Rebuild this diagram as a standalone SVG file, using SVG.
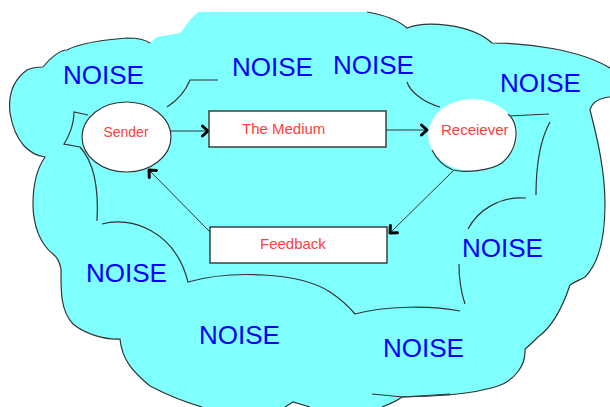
<svg xmlns="http://www.w3.org/2000/svg" width="610" height="407" viewBox="0 0 610 407">
<style>
.cloud{fill:#80FFFF;stroke:none}
.edge{fill:none;stroke:#333;stroke-width:1.2}
.noise{font-family:"Liberation Sans",Arial,sans-serif;font-size:26px;fill:#0000FF}
.lbl{font-family:"Liberation Sans",Arial,sans-serif;font-size:15px;fill:#FF4040}
.box{fill:#fff;stroke:#333;stroke-width:1.4}
.conn{fill:none;stroke:#333;stroke-width:1}
</style>
<defs>
<marker id="ah" markerUnits="userSpaceOnUse" markerWidth="14" markerHeight="14" refX="8" refY="7" orient="auto">
<path d="M2.5,2 L8,7 L2.5,12" fill="none" stroke="#000" stroke-width="3" stroke-linecap="round" stroke-linejoin="round"/>
</marker>
</defs>
<g id="cloud">
<path class="cloud" d="M150,43 L157,37 L180,33 L184,28 L190,20 L198,12 L367,12 C385,15 398,20 407,28 C425,21 470,23 492,43 C530,43 580,50 610,68 L610,97 C600,98 592,102 590,110 C597,137 605,170 605,204 C605,237 600,262 585,277 C580,280 576,281 570,285 C565,300 555,325 538,337 C533,342 529,346 525,349 C526,365 515,380 498,386 C470,395 438,396 402,397 C398,400 390,404 382,407 L310,407 L293,402 L285,407 L202,407 C188,403 175,399 150,386 C133,372 122,360 120,339 C105,340 85,334 73,324 C60,310 61,290 61,269 C60,262 56,256 53,254 C40,244 33,225 33,204 C33,185 36,170 45,157 C30,155 15,143 10,113 C8,95 13,80 27,70 C33,67 40,67 43,67 C50,58 60,50 67,50 C80,43 100,40 127,38 C138,38 146,40 150,43 Z"/>
<path class="edge" d="M367,12 C385,15 398,20 407,28 C425,21 470,23 492,43 C530,43 580,50 610,68"/>
<path class="edge" d="M610,97 C600,98 592,102 590,110 C597,137 605,170 605,204 C605,237 600,262 585,277 C580,280 576,281 570,285 C565,300 555,325 538,337 C533,342 529,346 525,349 C526,365 515,380 498,386 C470,395 438,396 402,397 C398,400 390,404 382,407"/>
<path class="edge" d="M372,394 L403,397 L450,394"/>
<path class="edge" d="M285,407 L293,402 L310,407"/>
<path class="edge" d="M202,407 C188,403 175,399 150,386 C133,372 122,360 120,339 C105,340 85,334 73,324 C60,310 61,290 61,269 C60,262 56,256 53,254 C40,244 33,225 33,204 C33,185 36,170 45,157 C30,155 15,143 10,113 C8,95 13,80 27,70 C33,67 40,67 43,67 C50,58 60,50 67,50 C80,43 100,40 127,38 C138,38 146,40 150,43"/>
<path class="edge" d="M167,107 C178,100 186,90 190,80 L218,80"/>
<path class="edge" d="M88,115 L74,112 C74,125 68,138 64,144 L80,147 C92,160 99,185 97,221"/>
<path class="edge" d="M102,224 C130,216 175,230 188,282 C230,270 300,272 330,292 C342,300 350,308 355,314 C385,306 430,305 460,311"/>
<path class="edge" d="M459,264 C459,280 462,295 465,304"/>
<path class="edge" d="M468,229 C478,210 500,196 526,198"/>
<path class="edge" d="M536,195 C536,165 540,140 550,122"/>
<path class="edge" d="M508,116 L549,114"/>
<path class="edge" d="M407,82 C410,92 425,103 440,107"/>
</g>
<g id="noise-labels">
<text class="noise" x="63" y="84">NOISE</text>
<text class="noise" x="232" y="76">NOISE</text>
<text class="noise" x="333" y="74">NOISE</text>
<text class="noise" x="500" y="92">NOISE</text>
<text class="noise" x="462" y="257">NOISE</text>
<text class="noise" x="383" y="357">NOISE</text>
<text class="noise" x="199" y="344">NOISE</text>
<text class="noise" x="86" y="282">NOISE</text>
</g>
<g id="connectors">
<path class="conn" d="M171,131 L208,131" marker-end="url(#ah)"/>
<path class="conn" d="M386,130 L427,130" marker-end="url(#ah)"/>
<path class="conn" d="M453,171 L390,233" marker-end="url(#ah)"/>
<path class="conn" d="M210,232 L149,170" marker-end="url(#ah)"/>
</g>
<g id="sender">
<ellipse cx="126.5" cy="137" rx="44.5" ry="35" fill="#fff" stroke="#333" stroke-width="1.2"/>
<text class="lbl" x="126" y="137" text-anchor="middle" style="font-size:14px">Sender</text>
</g>
<g id="medium">
<rect class="box" x="209" y="111" width="177" height="36"/>
<text class="lbl" x="242" y="134">The Medium</text>
</g>
<g id="receiver">
<ellipse cx="472.5" cy="135" rx="44.5" ry="36" fill="#fff"/>
<path class="edge" d="M508,114 C520,125 519,148 502,163 C490,171 465,173 453,170 C445,167 437,160 432,150"/>
<text class="lbl" x="441" y="135">Receiever</text>
</g>
<g id="feedback">
<rect class="box" x="210" y="227" width="177" height="36"/>
<text class="lbl" x="260" y="249">Feedback</text>
</g>
</svg>
